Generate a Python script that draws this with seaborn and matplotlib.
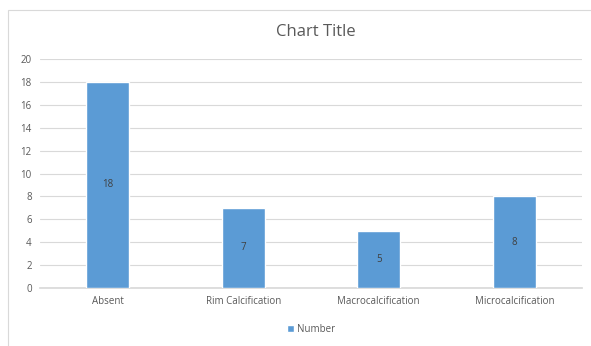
import matplotlib
matplotlib.use("Agg")
import matplotlib.pyplot as plt
import seaborn as sns
import pandas as pd
from matplotlib.patches import Rectangle

categories = ['Absent', 'Rim Calcification', 'Macrocalcification', 'Microcalcification']
values = [18, 7, 5, 8]
series_name = 'Number'

df = pd.DataFrame({'category': categories, 'value': values})

sns.set_theme(style='white')
plt.rcParams['font.family'] = ['Open Sans', 'DejaVu Sans']

fig = plt.figure(figsize=(5.91, 3.46), dpi=100)
ax = fig.add_axes([40 / 591, 1 - 288 / 346, 542 / 591, 229 / 346])

bar_color = '#5B9BD5'
sns.barplot(data=df, x='category', y='value', color=bar_color, width=0.32,
            saturation=1, ax=ax, label=series_name, zorder=3)

for p, v in zip(ax.patches, values):
    ax.text(p.get_x() + p.get_width() / 2, v / 2, str(v), ha='center', va='center',
            fontsize=7, color='#404040', zorder=4)

ax.set_ylim(0, 20)
ax.set_yticks(range(0, 21, 2))
ax.set_xlim(-0.5, 3.5)
ax.grid(axis='y', color='#D9D9D9', linewidth=0.8, zorder=0)
for s in ['top', 'right', 'left']:
    ax.spines[s].set_visible(False)
ax.spines['bottom'].set_color('#D9D9D9')
ax.tick_params(axis='both', length=0, labelsize=7, labelcolor='#595959', pad=6)
ax.set_xlabel('')
ax.set_ylabel('')

fig.text(316 / 591, 1 - 32 / 346, 'Chart Title', ha='center', va='center',
         fontsize=12, color='#595959')

ax.legend(loc='upper center', bbox_to_anchor=(0.5, -0.12), frameon=False,
          fontsize=7, labelcolor='#595959', handlelength=0.7, handleheight=0.7,
          handletextpad=0.3)

# chart frame
fig.patches.append(Rectangle((8 / 591, -0.05), 1.0, 1 - 10 / 346 + 0.05,
                             transform=fig.transFigure, fill=False,
                             edgecolor='#D9D9D9', linewidth=0.8))

fig.savefig('out.png', dpi=100)
